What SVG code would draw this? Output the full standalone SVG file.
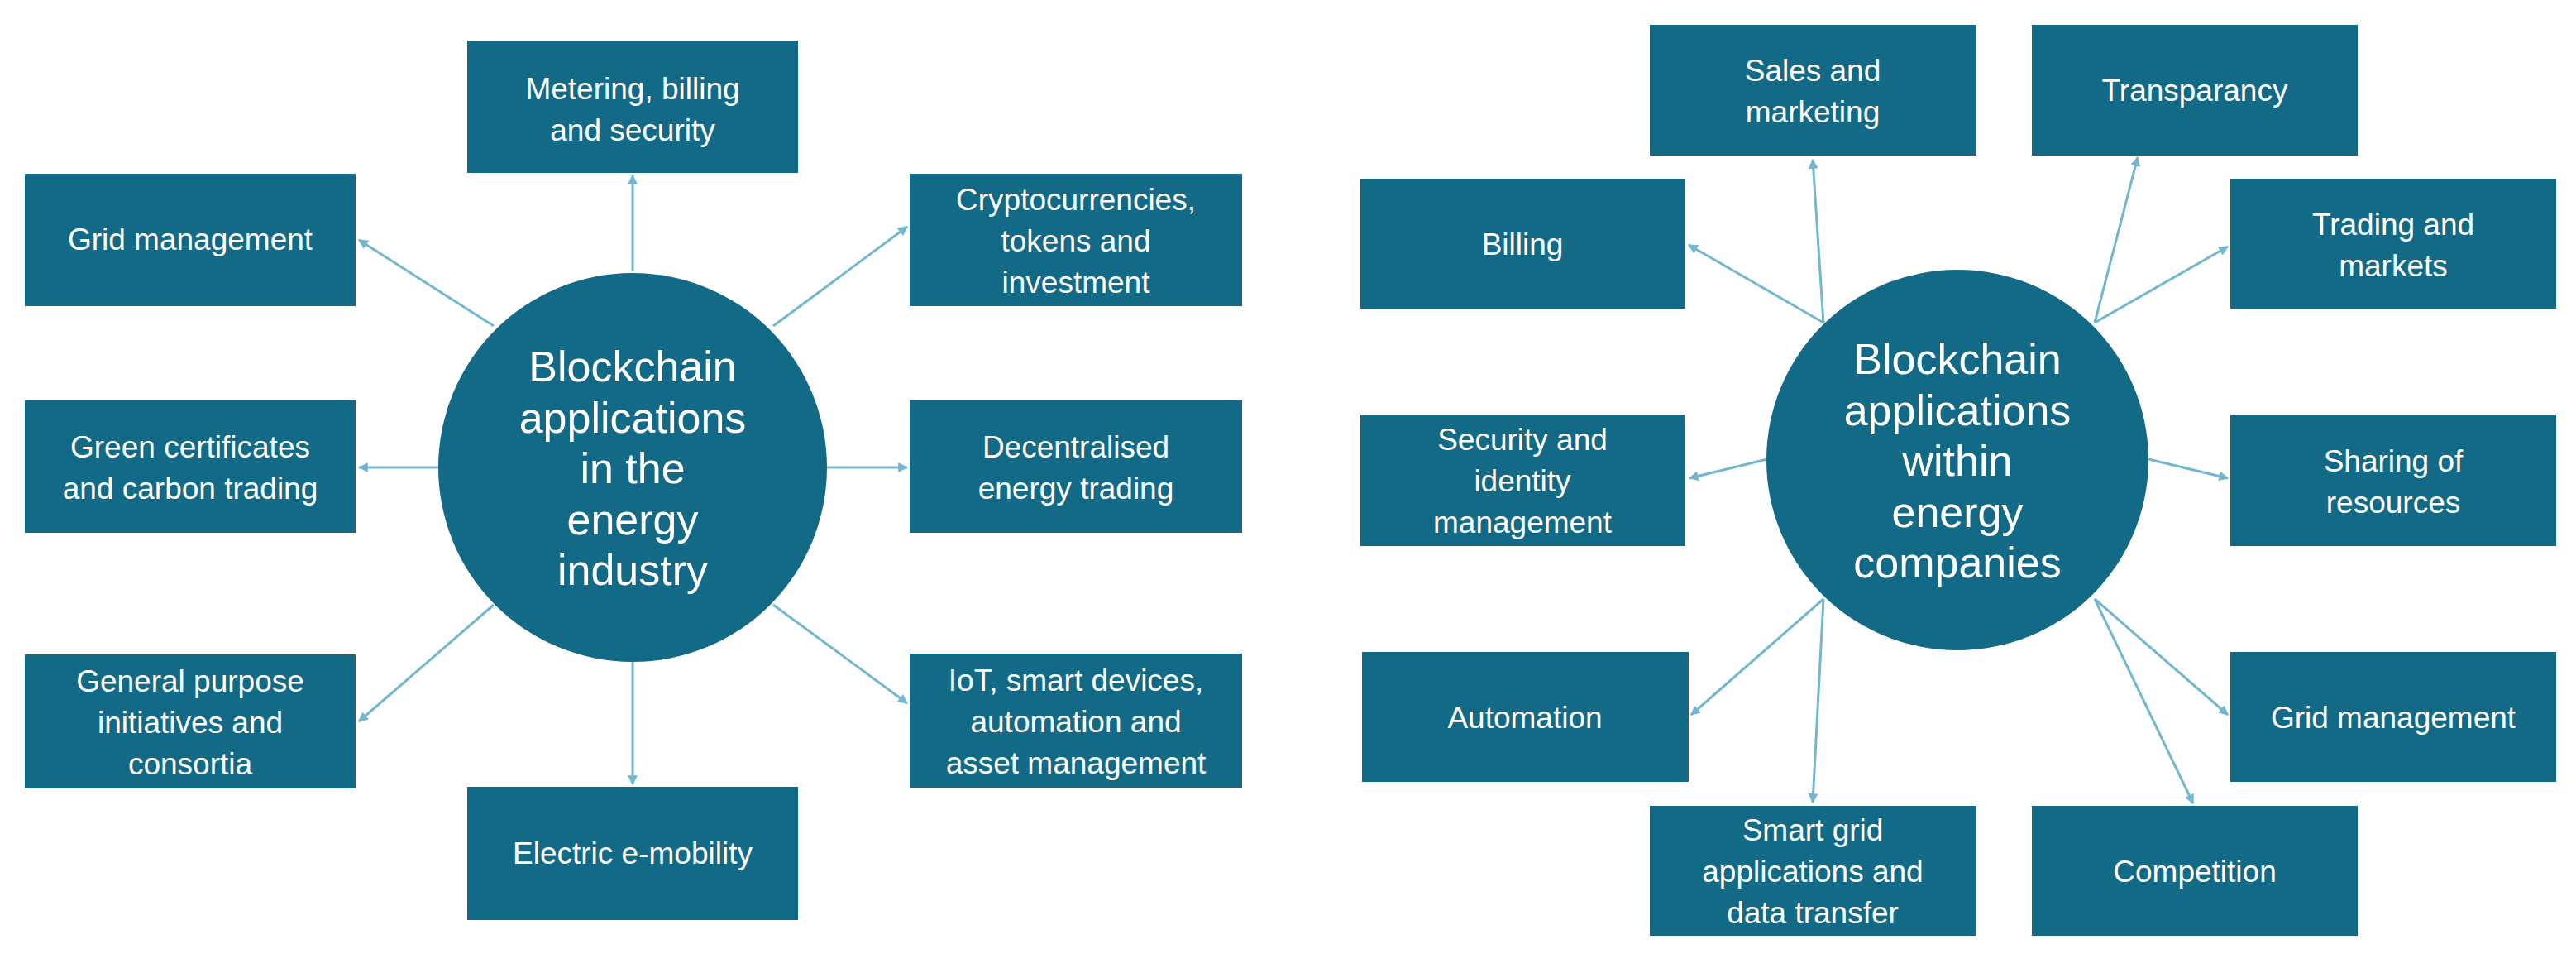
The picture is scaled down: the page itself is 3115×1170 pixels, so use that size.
<svg xmlns="http://www.w3.org/2000/svg" width="3115" height="1170" viewBox="0 0 3115 1170">
<style>
.b{fill:#136a86}
.t{fill:#fff;font-family:"Liberation Sans",Arial,sans-serif;font-size:37px;text-anchor:middle}
.c{fill:#fff;font-family:"Liberation Sans",Arial,sans-serif;font-size:52px;text-anchor:middle}
.l{stroke:#72b6cf;stroke-width:3;fill:none;marker-end:url(#a)}
</style>
<defs><marker id="a" viewBox="0 0 10 10" refX="9" refY="5" markerWidth="4" markerHeight="4" orient="auto"><path d="M0,0L10,5L0,10z" fill="#72b6cf"/></marker></defs>
<rect width="3115" height="1170" fill="#fff"/>
<g id="connectors">
<path class="l" d="M765,328V212"/>
<path class="l" d="M597,394L434,290"/>
<path class="l" d="M935,394L1097,274"/>
<path class="l" d="M530,565H434"/>
<path class="l" d="M1000,565H1097"/>
<path class="l" d="M597,731L434,872"/>
<path class="l" d="M935,731L1097,850"/>
<path class="l" d="M765,800V948"/>
<path class="l" d="M2205,390L2192,193"/>
<path class="l" d="M2205,390L2042,296"/>
<path class="l" d="M2533,390L2585,190"/>
<path class="l" d="M2533,390L2694,298"/>
<path class="l" d="M2137,555L2043,578"/>
<path class="l" d="M2598,555L2694,578"/>
<path class="l" d="M2205,724L2045,864"/>
<path class="l" d="M2205,724L2192,970"/>
<path class="l" d="M2533,724L2694,864"/>
<path class="l" d="M2533,724L2652,971"/>
</g>
<g id="center1"><circle class="b" cx="765" cy="565" r="235"/><text class="c"><tspan x="765" y="461">Blockchain</tspan><tspan x="765" y="523">applications</tspan><tspan x="765" y="584">in the</tspan><tspan x="765" y="646">energy</tspan><tspan x="765" y="707">industry</tspan></text></g>
<g id="n1"><rect class="b" x="565" y="49" width="400" height="160"/><text class="t"><tspan x="765" y="120">Metering, billing</tspan><tspan x="765" y="170">and security</tspan></text></g>
<g id="n2"><rect class="b" x="30" y="210" width="400" height="160"/><text class="t" x="230" y="302">Grid management</text></g>
<g id="n3"><rect class="b" x="1100" y="210" width="402" height="160"/><text class="t"><tspan x="1301" y="254">Cryptocurrencies,</tspan><tspan x="1301" y="304">tokens and</tspan><tspan x="1301" y="354">investment</tspan></text></g>
<g id="n4"><rect class="b" x="30" y="484" width="400" height="160"/><text class="t"><tspan x="230" y="553">Green certificates</tspan><tspan x="230" y="603">and carbon trading</tspan></text></g>
<g id="n5"><rect class="b" x="1100" y="484" width="402" height="160"/><text class="t"><tspan x="1301" y="553">Decentralised</tspan><tspan x="1301" y="603">energy trading</tspan></text></g>
<g id="n6"><rect class="b" x="30" y="791" width="400" height="162"/><text class="t"><tspan x="230" y="836">General purpose</tspan><tspan x="230" y="886">initiatives and</tspan><tspan x="230" y="936">consortia</tspan></text></g>
<g id="n7"><rect class="b" x="1100" y="790" width="402" height="162"/><text class="t"><tspan x="1301" y="835">IoT, smart devices,</tspan><tspan x="1301" y="885">automation and</tspan><tspan x="1301" y="935">asset management</tspan></text></g>
<g id="n8"><rect class="b" x="565" y="951" width="400" height="161"/><text class="t" x="765" y="1044">Electric e-mobility</text></g>
<g id="center2"><ellipse class="b" cx="2367" cy="556" rx="231" ry="230"/><text class="c"><tspan x="2367" y="452">Blockchain</tspan><tspan x="2367" y="514">applications</tspan><tspan x="2367" y="575">within</tspan><tspan x="2367" y="637">energy</tspan><tspan x="2367" y="698">companies</tspan></text></g>
<g id="m1"><rect class="b" x="1995" y="30" width="395" height="158"/><text class="t"><tspan x="2192" y="98">Sales and</tspan><tspan x="2192" y="148">marketing</tspan></text></g>
<g id="m2"><rect class="b" x="2457" y="30" width="394" height="158"/><text class="t" x="2654" y="122">Transparancy</text></g>
<g id="m3"><rect class="b" x="1645" y="216" width="393" height="157"/><text class="t" x="1841" y="308">Billing</text></g>
<g id="m4"><rect class="b" x="2697" y="216" width="394" height="157"/><text class="t"><tspan x="2894" y="284">Trading and</tspan><tspan x="2894" y="334">markets</tspan></text></g>
<g id="m5"><rect class="b" x="1645" y="501" width="393" height="159"/><text class="t"><tspan x="1841" y="544">Security and</tspan><tspan x="1841" y="594">identity</tspan><tspan x="1841" y="644">management</tspan></text></g>
<g id="m6"><rect class="b" x="2697" y="501" width="394" height="159"/><text class="t"><tspan x="2894" y="570">Sharing of</tspan><tspan x="2894" y="620">resources</tspan></text></g>
<g id="m7"><rect class="b" x="1647" y="788" width="395" height="157"/><text class="t" x="1844" y="880">Automation</text></g>
<g id="m8"><rect class="b" x="2697" y="788" width="394" height="157"/><text class="t" x="2894" y="880">Grid management</text></g>
<g id="m9"><rect class="b" x="1995" y="974" width="395" height="157"/><text class="t"><tspan x="2192" y="1016">Smart grid</tspan><tspan x="2192" y="1066">applications and</tspan><tspan x="2192" y="1116">data transfer</tspan></text></g>
<g id="m10"><rect class="b" x="2457" y="974" width="394" height="157"/><text class="t" x="2654" y="1066">Competition</text></g>
</svg>
